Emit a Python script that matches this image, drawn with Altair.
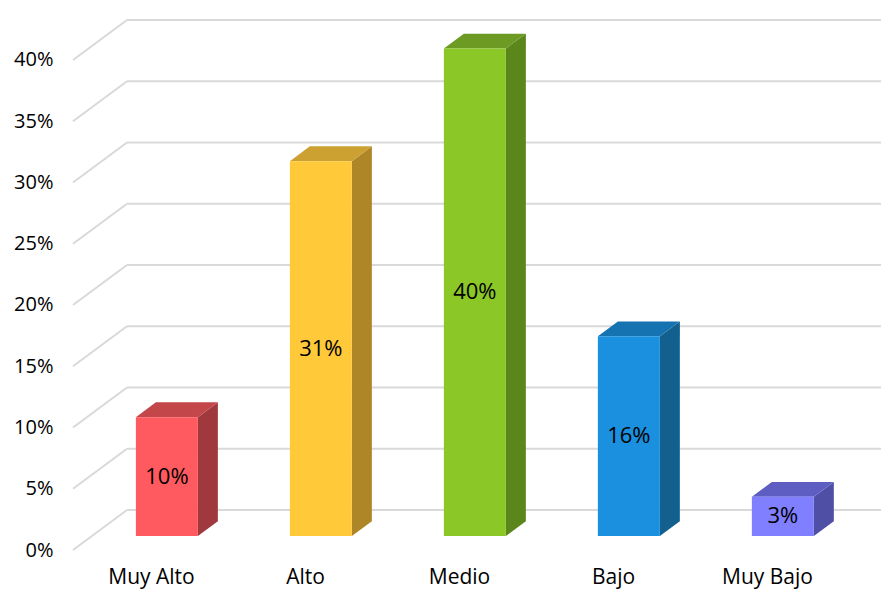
import altair as alt
import pandas as pd

# ---- data ----
categories = ["Muy Alto", "Alto", "Medio", "Bajo", "Muy Bajo"]
values = [0.097, 0.306, 0.398, 0.163, 0.032]
tick_values = [0.0, 0.05, 0.10, 0.15, 0.20, 0.25, 0.30, 0.35, 0.40]

front_colors = ["#FF5A5F", "#FFC93A", "#8AC727", "#1A90DE", "#7F7FFF"]
side_colors = ["#A0393D", "#AE8627", "#5A861C", "#13608F", "#4F4FA6"]
top_colors = ["#C2464A", "#CCA031", "#6C9A22", "#1673B2", "#5E5EC2"]

# ---- 3D geometry (in scale units) ----
X_MIN, X_MAX = -0.487, 4.760
Y_MAX = 0.4408
DEPTH_X, DEPTH_Y = 0.3506, 0.03265   # full floor depth
BAR_HALF = 0.2013
BAR_FRONT, BAR_BACK = 0.35, 0.72     # depth fractions of bar faces

FONT = "Open Sans"
GRID = "#D9D9D9"

xs = alt.Scale(domain=[X_MIN, X_MAX], nice=False, zero=False)
ys = alt.Scale(domain=[0, Y_MAX], nice=False, zero=False)

# gridlines
back = pd.DataFrame({
    "x": [X_MIN + DEPTH_X] * len(tick_values),
    "x2": [X_MAX] * len(tick_values),
    "y": [v + DEPTH_Y for v in tick_values],
})
diag = pd.DataFrame({
    "x": [X_MIN] * len(tick_values),
    "x2": [X_MIN + DEPTH_X] * len(tick_values),
    "y": tick_values,
    "y2": [v + DEPTH_Y for v in tick_values],
})

back_rules = alt.Chart(back).mark_rule(color=GRID, strokeWidth=2).encode(
    x=alt.X("x:Q", scale=xs, axis=alt.Axis(
        values=[0, 1, 2, 3, 4],
        labelExpr="['Muy Alto','Alto','Medio','Bajo','Muy Bajo'][datum.value]",
        ticks=False, domain=False, grid=False, labelFont=FONT, labelFontSize=21,
        labelColor="#000000", labelPadding=16, labelOffset=3, title=None)),
    x2="x2:Q",
    y=alt.Y("y:Q", scale=ys, axis=alt.Axis(
        values=tick_values, format=".0%", ticks=False, domain=False, grid=False,
        labelFont=FONT, labelFontSize=20, labelColor="#000000", labelPadding=20,
        title=None)),
)
diag_rules = alt.Chart(diag).mark_rule(color=GRID, strokeWidth=2).encode(
    x=alt.X("x:Q", scale=xs), x2="x2:Q", y=alt.Y("y:Q", scale=ys), y2="y2:Q"
)

# bars
fy = BAR_FRONT * DEPTH_Y
fx = BAR_FRONT * DEPTH_X
dxb = (BAR_BACK - BAR_FRONT) * DEPTH_X
dyb = (BAR_BACK - BAR_FRONT) * DEPTH_Y

front_rows, side_rows, top_rows = [], [], []
for i, (c, v) in enumerate(zip(categories, values)):
    cx = i + fx
    front_rows.append({"cat": c, "val": v, "x": cx - BAR_HALF, "x2": cx + BAR_HALF,
                       "y": fy, "y2": fy + v, "cx": cx, "cy": fy + v / 2})
    side_rows.append({"cat": c, "x": cx + BAR_HALF, "y": fy, "y2": fy + v})
    side_rows.append({"cat": c, "x": cx + BAR_HALF + dxb, "y": fy + dyb, "y2": fy + v + dyb})
    top_rows.append({"cat": c, "y": fy + v, "x": cx - BAR_HALF, "x2": cx + BAR_HALF})
    top_rows.append({"cat": c, "y": fy + v + dyb, "x": cx - BAR_HALF + dxb, "x2": cx + BAR_HALF + dxb})

front_df = pd.DataFrame(front_rows)
side_df = pd.DataFrame(side_rows)
top_df = pd.DataFrame(top_rows)

front = alt.Chart(front_df).mark_rect().encode(
    x=alt.X("x:Q", scale=xs), x2="x2:Q",
    y=alt.Y("y:Q", scale=ys), y2="y2:Q",
    color=alt.Color("cat:N", scale=alt.Scale(domain=categories, range=front_colors), legend=None),
)
side = alt.Chart(side_df).mark_area(orient="vertical").encode(
    x=alt.X("x:Q", scale=xs),
    y=alt.Y("y:Q", scale=ys), y2="y2:Q",
    color=alt.Color("cat:N", scale=alt.Scale(domain=categories, range=side_colors), legend=None),
    detail="cat:N",
)
top = alt.Chart(top_df).mark_area(orient="horizontal").encode(
    y=alt.Y("y:Q", scale=ys),
    x=alt.X("x:Q", scale=xs), x2="x2:Q",
    color=alt.Color("cat:N", scale=alt.Scale(domain=categories, range=top_colors), legend=None),
    detail="cat:N",
)
text = alt.Chart(front_df).mark_text(font=FONT, fontSize=22, color="#000000").encode(
    x=alt.X("cx:Q", scale=xs),
    y=alt.Y("cy:Q", scale=ys),
    text=alt.Text("val:Q", format=".0%"),
)

chart = alt.layer(back_rules, diag_rules, side, top, front, text).resolve_scale(
    color="independent"
).properties(
    width=808, height=540,
    autosize=alt.AutoSizeParams(type="none"),
    padding={"left": 73, "top": 10, "right": 0, "bottom": 40},
    background="#FFFFFF",
).configure_view(stroke=None)

chart.save("out.html", embed_options={"renderer": "svg", "actions": False})
